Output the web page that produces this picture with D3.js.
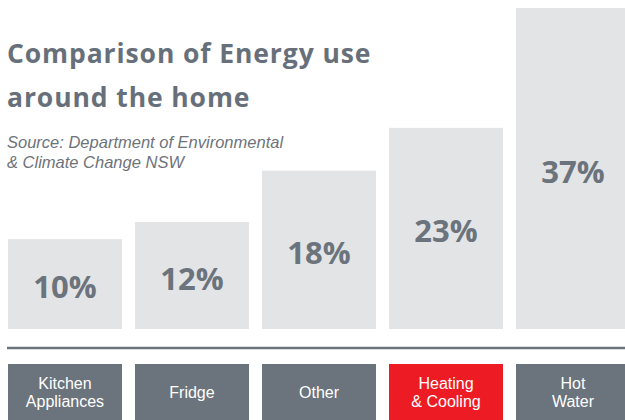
<!DOCTYPE html>
<html>
<head>
<meta charset="utf-8">
<script src="https://cdn.jsdelivr.net/npm/d3@7"></script>
<style>
  html, body { margin: 0; padding: 0; background: #fff; }
  svg { display: block; }
</style>
</head>
<body>
<div id="chart"></div>
<script>
const categories = [["Kitchen", "Appliances"], ["Fridge"], ["Other"], ["Heating", "& Cooling"], ["Hot", "Water"]];
const values = [10, 12, 18, 23, 37];
const highlight = [false, false, false, true, false];
const titleLines = ["Comparison of Energy use", "around the home"];
const sourceLines = ["Source: Department of Environmental", "& Climate Change NSW"];

const W = 625, H = 420;
const FONT = "'Open Sans', 'Noto Sans', sans-serif";
const FONT_SMALL = "'Liberation Sans', Arial, sans-serif";
const grey = "#6b737c";

const svg = d3.select("#chart").append("svg")
  .attr("width", W).attr("height", H);

const x = d3.scaleBand()
  .domain(d3.range(values.length))
  .range([8, 630])
  .paddingInner(0.1024)
  .paddingOuter(0);

const y = d3.scaleLinear().domain([-0.5, 37]).range([329, 8]);

// bars
svg.append("g").selectAll("rect")
  .data(values)
  .join("rect")
  .attr("x", (d, i) => x(i))
  .attr("y", d => y(d))
  .attr("width", x.bandwidth())
  .attr("height", d => y(-0.5) - y(d))
  .attr("fill", "#e3e4e6");

// value labels
svg.append("g").selectAll("text")
  .data(values)
  .join("text")
  .attr("x", (d, i) => x(i) + x.bandwidth() / 2)
  .attr("y", d => (y(d) + y(-0.5)) / 2 + 14)
  .attr("text-anchor", "middle")
  .attr("font-family", FONT)
  .attr("font-weight", 700)
  .attr("font-size", 31)
  .attr("fill", grey)
  .text(d => d + "%");

// separator line
svg.append("line")
  .attr("x1", 7).attr("x2", W)
  .attr("y1", 348).attr("y2", 348)
  .attr("stroke", grey).attr("stroke-width", 2.5);

// category boxes
const cat = svg.append("g").selectAll("g")
  .data(categories)
  .join("g");
cat.append("rect")
  .attr("x", (d, i) => x(i))
  .attr("y", 364)
  .attr("width", x.bandwidth())
  .attr("height", 60)
  .attr("fill", (d, i) => highlight[i] ? "#ed1c24" : grey);
cat.each(function(d, i) {
  const g = d3.select(this);
  const cx = x(i) + x.bandwidth() / 2;
  const base = d.length === 1 ? 398 : 389;
  d.forEach((line, k) => {
    g.append("text")
      .attr("x", cx)
      .attr("y", base + k * 18)
      .attr("text-anchor", "middle")
      .attr("font-family", FONT_SMALL)
      .attr("font-size", 16)
      .attr("fill", "#fff")
      .text(line);
  });
});

// title
svg.append("g").selectAll("text")
  .data(titleLines)
  .join("text")
  .attr("x", 7)
  .attr("y", (d, i) => 63 + i * 44)
  .attr("font-family", FONT)
  .attr("font-weight", 700)
  .attr("font-size", 26.5)
  .attr("letter-spacing", 0.9)
  .attr("fill", "#67707a")
  .text(d => d);

// source
svg.append("g").selectAll("text")
  .data(sourceLines)
  .join("text")
  .attr("x", 7)
  .attr("y", (d, i) => 148 + i * 20)
  .attr("font-family", FONT_SMALL)
  .attr("font-style", "italic")
  .attr("font-size", 16.5)
  .attr("fill", "#6d737b")
  .text(d => d);
</script>
</body>
</html>
